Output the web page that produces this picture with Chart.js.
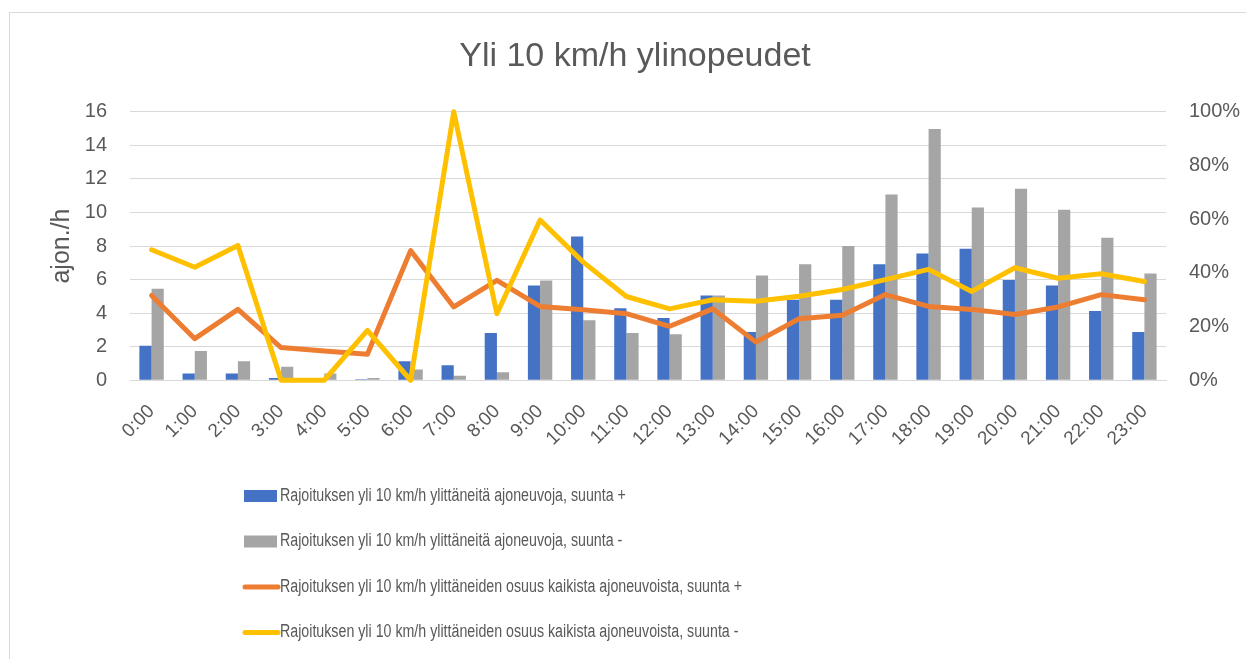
<!DOCTYPE html>
<html>
<head>
<meta charset="utf-8">
<script src="https://cdn.jsdelivr.net/npm/chart.js@4.4.0/dist/chart.umd.min.js"></script>
<style>
  html, body { margin: 0; padding: 0; background: #fff; }
  #wrap {
    position: absolute; left: 9px; top: 12px;
    width: 1250px; height: 660px;
    border: 1px solid #d9d9d9;
  }
  canvas { display: block; }
</style>
</head>
<body>
<div id="wrap"><canvas id="chart" width="1250" height="660"></canvas></div>
<script>
// tuntien nimet x-akselille
const hours = ['0:00','1:00','2:00','3:00','4:00','5:00','6:00','7:00','8:00','9:00','10:00','11:00',
               '12:00','13:00','14:00','15:00','16:00','17:00','18:00','19:00','20:00','21:00','22:00','23:00'];

// ajon./h
const countPlus  = [2.05, 0.4, 0.4, 0.14, 0, 0.06, 1.13, 0.9, 2.82, 5.65, 8.57, 4.29,
                    3.71, 5.05, 2.87, 4.8, 4.8, 6.92, 7.56, 7.84, 5.97, 5.65, 4.13, 2.87];
const countMinus = [5.46, 1.75, 1.13, 0.8, 0.4, 0.14, 0.64, 0.27, 0.48, 5.95, 3.57, 2.82,
                    2.74, 5.05, 6.25, 6.92, 8.0, 11.07, 14.98, 10.3, 11.41, 10.16, 8.49, 6.37];

// osuus kaikista (0..1)
const sharePlus  = [0.316, 0.155, 0.264, 0.122, 0.109, 0.097, 0.483, 0.273, 0.372, 0.275, 0.263, 0.248,
                    0.201, 0.266, 0.142, 0.229, 0.242, 0.319, 0.275, 0.264, 0.245, 0.273, 0.319, 0.300];
const shareMinus = [0.486, 0.421, 0.502, 0, 0, 0.186, 0, 1.0, 0.248, 0.597, 0.44, 0.312,
                    0.266, 0.300, 0.294, 0.313, 0.338, 0.375, 0.413, 0.331, 0.419, 0.380, 0.397, 0.368];

const leftTicks = [0, 2, 4, 6, 8, 10, 12, 14, 16];

const TEXT = '#595959';
const GRID = '#d9d9d9';

// oma pystysuora selite (Chart.js:n oma selite asettaisi rivit vierekkäin)
const stackedLegend = {
    id: 'stackedLegend',
    afterDraw(chart) {
        const ctx = chart.ctx;
        const x0 = 234;
        const top = 483;
        const rowGap = 45.5;
        ctx.save();
        ctx.font = '18px "Liberation Sans", sans-serif';
        ctx.textBaseline = 'middle';
        chart.data.datasets.forEach((ds, i) => {
            const y = top + i * rowGap;
            if (ds.type === 'line') {
                ctx.strokeStyle = ds.borderColor;
                ctx.lineWidth = 5;
                ctx.lineCap = 'round';
                ctx.beginPath();
                ctx.moveTo(x0 + 1, y);
                ctx.lineTo(x0 + 34, y);
                ctx.stroke();
            } else {
                ctx.fillStyle = ds.backgroundColor;
                ctx.fillRect(x0, y - 6, 33, 12);
            }
            ctx.fillStyle = TEXT;
            // kapeampi kirjasin kuin Liberation Sans -> puristetaan leveyttä
            const w = ctx.measureText(ds.label).width * 0.79;
            ctx.fillText(ds.label, x0 + 36, y, w);
        });
        ctx.restore();
    }
};

const ctx = document.getElementById('chart').getContext('2d');
new Chart(ctx, {
    data: {
        labels: hours,
        datasets: [
            {
                type: 'bar',
                label: 'Rajoituksen yli 10 km/h ylittäneitä ajoneuvoja, suunta +',
                data: countPlus,
                backgroundColor: '#4472C4',
                yAxisID: 'y',
                order: 3,
                barPercentage: 1,
                categoryPercentage: 0.565
            },
            {
                type: 'bar',
                label: 'Rajoituksen yli 10 km/h ylittäneitä ajoneuvoja, suunta -',
                data: countMinus,
                backgroundColor: '#A5A5A5',
                yAxisID: 'y',
                order: 3,
                barPercentage: 1,
                categoryPercentage: 0.565
            },
            {
                type: 'line',
                label: 'Rajoituksen yli 10 km/h ylittäneiden osuus kaikista ajoneuvoista, suunta +',
                data: sharePlus,
                borderColor: '#ED7D31',
                backgroundColor: '#ED7D31',
                borderWidth: 5,
                borderJoinStyle: 'round',
                borderCapStyle: 'round',
                pointRadius: 0,
                tension: 0,
                clip: false,
                yAxisID: 'y1',
                order: 2
            },
            {
                type: 'line',
                label: 'Rajoituksen yli 10 km/h ylittäneiden osuus kaikista ajoneuvoista, suunta -',
                data: shareMinus,
                borderColor: '#FFC000',
                backgroundColor: '#FFC000',
                borderWidth: 5,
                borderJoinStyle: 'round',
                borderCapStyle: 'round',
                pointRadius: 0,
                tension: 0,
                clip: false,
                yAxisID: 'y1',
                order: 1
            }
        ]
    },
    options: {
        responsive: false,
        animation: false,
        layout: {
            padding: { left: 0, right: 0, top: 0, bottom: 211 }
        },
        scales: {
            x: {
                grid: { display: false },
                border: { color: GRID, width: 1 },
                ticks: {
                    color: TEXT,
                    font: { family: '"Liberation Sans", sans-serif', size: 19 },
                    minRotation: 45,
                    maxRotation: 45,
                    padding: 12
                }
            },
            y: {
                position: 'left',
                min: 0,
                max: 16,
                afterBuildTicks: axis => { axis.ticks = leftTicks.map(v => ({ value: v })); },
                afterFit: axis => { axis.width = 120; },
                grid: { color: GRID, lineWidth: 1, drawTicks: false },
                border: { display: false },
                ticks: {
                    color: TEXT,
                    font: { family: '"Liberation Sans", sans-serif', size: 20 },
                    padding: 23
                },
                title: {
                    display: true,
                    text: 'ajon./h',
                    color: TEXT,
                    font: { family: '"Liberation Sans", sans-serif', size: 25 },
                    padding: { top: 37, bottom: 0 }
                }
            },
            y1: {
                position: 'right',
                min: 0,
                max: 1,
                afterFit: axis => { axis.width = 94; },
                grid: { display: false, drawTicks: false },
                border: { display: false },
                ticks: {
                    stepSize: 0.2,
                    color: TEXT,
                    font: { family: '"Liberation Sans", sans-serif', size: 20 },
                    padding: 23,
                    callback: v => Math.round(v * 100) + '%'
                }
            }
        },
        plugins: {
            legend: { display: false },
            tooltip: { enabled: false },
            title: {
                display: true,
                text: 'Yli 10 km/h ylinopeudet',
                color: TEXT,
                font: { family: '"Liberation Sans", sans-serif', size: 34, weight: 'normal' },
                padding: { top: 23, bottom: 35 }
            }
        }
    },
    plugins: [stackedLegend]
});
</script>
</body>
</html>
